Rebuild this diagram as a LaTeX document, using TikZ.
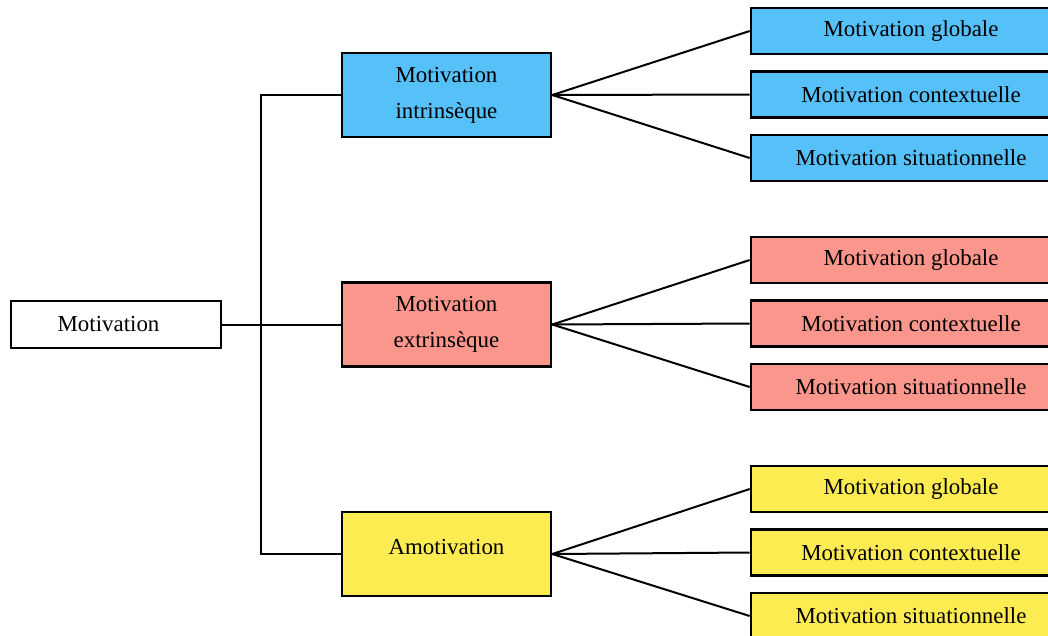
\documentclass[tikz,border=0pt]{standalone}
\usepackage{fontspec}
\setmainfont{Liberation Serif}
\definecolor{cblue}{HTML}{56C0F9}
\definecolor{cred}{HTML}{FB968C}
\definecolor{cyel}{HTML}{FCEC52}
\tikzset{
  box/.style={draw=black, line width=2.6pt, inner sep=0pt, font=\fontsize{22.9}{36}\selectfont, align=center},
  rootbox/.style={box, fill=white, minimum width=210pt, minimum height=47pt},
  midbox/.style={box, minimum width=209pt, minimum height=84pt},
  leaf/.style={box, minimum width=320pt, minimum height=46pt},
  link/.style={line width=2pt, black}
}
\begin{document}
\begin{tikzpicture}[x=1pt,y=-1pt]
\useasboundingbox (0,0) rectangle (1048,635);
\clip (0,0) rectangle (1048,635);
\node[rootbox] (root) at (116,324.5) {Motivation\hspace*{15pt}};
\node[midbox, fill=cblue] (m1) at (446.5,95) {\raisebox{-1.5pt}{Motivation}\\\raisebox{-1.5pt}{intrinsèque}};
\node[midbox, fill=cred] (m2) at (446.5,324.5) {\raisebox{-1pt}{Motivation}\\\raisebox{-1pt}{extrinsèque}};
\node[midbox, fill=cyel] (m3) at (446.5,554) {\raisebox{0pt}[0pt][0pt]{Amotivation}};
\foreach \m/\c/\y [count=\i] in {m1/cblue/31, m2/cred/260, m3/cyel/489}{
  \node[leaf, fill=\c] (\m a) at (911,\y) {Motivation globale};
  \node[leaf, fill=\c] (\m b) at (911,\y+63.5) {Motivation contextuelle};
  \node[leaf, fill=\c] (\m c) at (911,\y+127) {Motivation situationnelle};
  \draw[link] (\m.east) -- (\m a.west);
  \draw[link] (\m.east) -- (\m b.west);
  \draw[link] (\m.east) -- (\m c.west);
}
\coordinate (jt) at (261,95);
\coordinate (jb) at (261,554);
\draw[link] (m1.west) -- (jt) -- (jb) -- (m3.west);
\draw[link] (root.east) -- (m2.west);
\end{tikzpicture}
\end{document}
